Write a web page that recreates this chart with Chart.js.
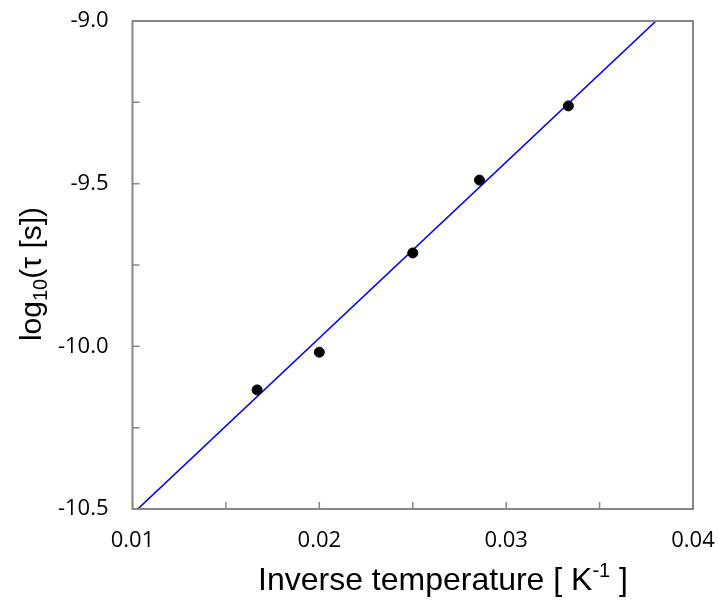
<!DOCTYPE html>
<html>
  <head>
    <title>Relaxation time vs inverse temperature</title>
    <script src="https://cdn.jsdelivr.net/npm/chart.js"></script>
    <style>
      body { margin: 0; background: #fff; }
      #wrap { width: 718px; height: 606px; }
    </style>
  </head>
  <body>
    <div id="wrap"><canvas id="tauChart" width="718" height="606"></canvas></div>

    <script>
      // measured points
      const invTemp = [0.01667, 0.02, 0.025, 0.02857, 0.03333];
      const logTau = [-10.134, -10.018, -9.713, -9.489, -9.261];

      // fitted line ends
      const fitX = [0.01028, 0.03802];
      const fitY = [-10.5, -9.0];

      // axis ticks
      const xTicks = [0.01, 0.02, 0.03, 0.04];
      const yTicks = [-10.5, -10.0, -9.5, -9.0];
      const xMinor = [0.015, 0.025, 0.035];
      const yMinor = [-10.25, -9.75, -9.25];

      const axisGray = '#878787';
      const tickFont = '"Open Sans", sans-serif';
      const titleFont = '"Liberation Sans", Arial, sans-serif';

      // draws a title made of pieces with sub/superscripts, centred on x
      function drawRich(ctx, parts, cx, baseline) {
        let total = 0;
        parts.forEach(p => {
          ctx.font = p.size + 'px ' + titleFont;
          p.w = ctx.measureText(p.text).width;
          total += p.w;
        });
        let x = cx - total / 2;
        parts.forEach(p => {
          ctx.font = p.size + 'px ' + titleFont;
          ctx.fillText(p.text, x, baseline + (p.dy || 0));
          x += p.w;
        });
      }

      const framePlugin = {
        id: 'frame',
        afterDraw(chart) {
          const { ctx, chartArea: a, scales } = chart;
          ctx.save();
          ctx.strokeStyle = axisGray;
          ctx.lineWidth = 2;
          ctx.strokeRect(a.left, a.top, a.right - a.left, a.bottom - a.top);

          // inward tick marks
          ctx.lineWidth = 1.5;
          ctx.beginPath();
          xTicks.concat(xMinor).forEach(v => {
            const px = scales.x.getPixelForValue(v);
            ctx.moveTo(px, a.bottom);
            ctx.lineTo(px, a.bottom - 7);
          });
          yTicks.concat(yMinor).forEach(v => {
            const py = scales.y.getPixelForValue(v);
            ctx.moveTo(a.left, py);
            ctx.lineTo(a.left + 7, py);
          });
          ctx.stroke();

          // axis titles
          ctx.fillStyle = '#000';
          ctx.textAlign = 'left';
          ctx.textBaseline = 'alphabetic';
          drawRich(ctx, [
            { text: 'Inverse temperature [ K', size: 32 },
            { text: '-1', size: 20, dy: -13 },
            { text: ' ]', size: 32 }
          ], 443, 590);

          ctx.translate(41, 274);
          ctx.rotate(-Math.PI / 2);
          drawRich(ctx, [
            { text: 'log', size: 30 },
            { text: '10', size: 20, dy: 6 },
            { text: '(\u03c4 [s])', size: 30 }
          ], 0, 0);
          ctx.restore();
        }
      };

      const ctx = document.getElementById('tauChart').getContext('2d');
      const tauChart = new Chart(ctx, {
        type: 'scatter',
        data: {
          datasets: [{
            label: 'data',
            data: invTemp.map((x, i) => ({ x: x, y: logTau[i] })),
            backgroundColor: '#000',
            borderColor: '#000',
            pointRadius: 5,
            pointHoverRadius: 5,
            order: 0
          }, {
            label: 'fit',
            type: 'line',
            data: fitX.map((x, i) => ({ x: x, y: fitY[i] })),
            borderColor: '#0000ff',
            borderWidth: 1.6,
            pointRadius: 0,
            fill: false,
            order: 1
          }]
        },
        options: {
          responsive: false,
          animation: false,
          layout: { padding: { left: 0, right: 25, top: 21, bottom: 0 } },
          plugins: {
            legend: { display: false },
            tooltip: { enabled: false }
          },
          scales: {
            x: {
              type: 'linear',
              min: 0.01,
              max: 0.04,
              afterBuildTicks: s => { s.ticks = xTicks.map(v => ({ value: v })); },
              afterFit: s => { s.height = 97; s.paddingLeft = 0; s.paddingRight = 0; },
              grid: { display: false, drawTicks: false },
              border: { display: false },
              ticks: {
                padding: 19,
                color: '#000',
                font: { family: tickFont, size: 22 },
                maxRotation: 0,
                callback: v => v.toFixed(2)
              }
            },
            y: {
              min: -10.5,
              max: -9.0,
              afterBuildTicks: s => { s.ticks = yTicks.map(v => ({ value: v })); },
              afterFit: s => { s.width = 132.5; s.paddingTop = 0; s.paddingBottom = 0; },
              grid: { display: false, drawTicks: false },
              border: { display: false },
              ticks: {
                padding: 24,
                color: '#000',
                font: { family: tickFont, size: 22 },
                callback: v => v.toFixed(1)
              }
            }
          }
        },
        plugins: [framePlugin]
      });
    </script>
  </body>
</html>
